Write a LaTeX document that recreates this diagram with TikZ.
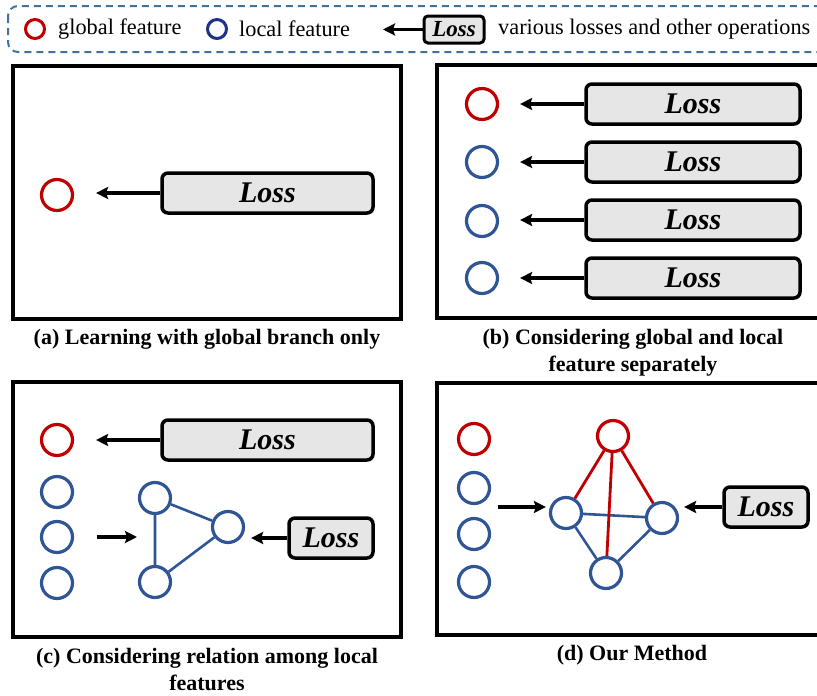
\documentclass[tikz,border=0pt]{standalone}
\usepackage{fontspec}
\setmainfont{Liberation Serif}
\usetikzlibrary{arrows.meta,calc}
\definecolor{gred}{HTML}{C00000}
\definecolor{lblue}{HTML}{2F5597}
\definecolor{navy}{HTML}{1F3287}
\definecolor{dashblue}{HTML}{41719C}
\definecolor{lossgray}{HTML}{E6E6E6}
\begin{document}
\begin{tikzpicture}[x=1pt,y=-1pt,
  feat/.style={circle, draw, line width=3.2pt, minimum size=31pt, inner sep=0pt},
  gfeat/.style={feat, draw=gred},
  lfeat/.style={feat, draw=lblue},
  smallfeat/.style={circle, draw, line width=3pt, minimum size=19pt, inner sep=0pt},
  lossbox/.style={draw, fill=lossgray, line width=3.5pt, rounded corners=6pt, inner sep=0pt,
    minimum height=40pt, font=\fontsize{30}{34}\selectfont\bfseries\itshape},
  arr/.style={-{Stealth[length=12pt,width=12pt,inset=2pt]}, line width=3.5pt},
  panel/.style={draw, line width=3.2pt, inner sep=0pt},
  capt/.style={font=\fontsize{22}{27}\selectfont\bfseries, align=center},
  legtext/.style={font=\fontsize{22.3}{26}\selectfont, anchor=west, inner sep=0pt},
  redge/.style={draw=gred, line width=2.8pt},
  bedge/.style={draw=lblue, line width=2.6pt}]
\useasboundingbox (0,0) rectangle (817,696);
\clip (0,0) rectangle (817,696);

% ---------- legend ----------
\draw[dashblue, line width=2pt, dash pattern=on 7pt off 5pt, rounded corners=10pt] (8,6) rectangle (860,52);
\node[smallfeat, draw=gred] (lg) at (35,29) {};
\node[legtext] (lgt) at (58,29) {global feature};
\node[smallfeat, draw=navy] (ll) at (217,29) {};
\node[legtext] (llt) at (239,29) {local feature};
\node[lossbox, minimum width=60pt, minimum height=27pt, line width=3pt, rounded corners=4pt,
  font=\fontsize{23}{26}\selectfont\bfseries\itshape] (lloss) at (454,29.5) {Loss};
\coordinate (larrow) at (383,29.5);
\draw[arr] (lloss.west) -- (larrow);
\node[legtext] (lvt) at (498,29) {various losses and other operations};

% ---------- panel (a) ----------
\node[panel, minimum width=388pt, minimum height=253pt] (pa) at (207,192.5) {};
\node[gfeat] (ag) at (57,195) {};
\node[lossbox, minimum width=211pt] (aloss) at (267.5,193) {Loss};
\draw[arr, shorten >=22pt] (aloss.west) -- (aloss.west -| ag.east);
\node[capt] (capa) at (207,339) {(a) Learning with global branch only};

% ---------- panel (b) ----------
\node[panel, minimum width=400pt, minimum height=253pt] (pb) at (637,191.5) {};
\node[gfeat] (bg) at (482,104) {};
\node[lfeat] (b1) at (482,162) {};
\node[lfeat] (b2) at (482,221) {};
\node[lfeat] (b3) at (482,278) {};
\node[lossbox, minimum width=214pt] (bl0) at (693,104) {Loss};
\node[lossbox, minimum width=214pt] (bl1) at (693,162) {Loss};
\node[lossbox, minimum width=214pt] (bl2) at (693,220) {Loss};
\node[lossbox, minimum width=214pt] (bl3) at (693,278) {Loss};
\draw[arr, shorten >=21pt] (bl0.west) -- (bl0.west -| bg.east);
\draw[arr, shorten >=21pt] (bl1.west) -- (bl1.west -| b1.east);
\draw[arr, shorten >=21pt] (bl2.west) -- (bl2.west -| b2.east);
\draw[arr, shorten >=21pt] (bl3.west) -- (bl3.west -| b3.east);
\node[capt] (capb) at (633,353) {(b) Considering global and local\\feature separately};

% ---------- panel (c) ----------
\node[panel, minimum width=388pt, minimum height=255pt] (pc) at (207,509.5) {};
\node[gfeat] (cg) at (57,440) {};
\node[lfeat] (c1) at (57,492) {};
\node[lfeat] (c2) at (57,537) {};
\node[lfeat] (c3) at (57,583) {};
\node[lossbox, minimum width=211pt] (cl0) at (267.5,440) {Loss};
\draw[arr, shorten >=22pt] (cl0.west) -- (cl0.west -| cg.east);
\node[lfeat] (ct) at (155,498) {};
\node[lfeat] (cr) at (228,527) {};
\node[lfeat] (cb) at (155,582) {};
\draw[bedge] (ct) -- (cr) -- (cb) -- (ct);
\coordinate (cin) at (97,537);
\coordinate (cinend) at (137,537);
\draw[arr] (cin) -- (cinend);
\node[lossbox, minimum width=84pt] (cl1) at (331,538) {Loss};
\draw[arr, shorten >=6pt] (cl1.west) -- (cl1.west -| cr.east);
\node[capt] (capc) at (207,669) {(c) Considering relation among local\\features};

% ---------- panel (d) ----------
\node[panel, minimum width=400pt, minimum height=252pt] (pd) at (637,509) {};
\node[gfeat] (dg) at (474,439) {};
\node[lfeat] (d1) at (474,488) {};
\node[lfeat] (d2) at (474,534) {};
\node[lfeat] (d3) at (474,582) {};
\node[gfeat] (dt) at (613,436) {};
\node[lfeat] (dl) at (566,513) {};
\node[lfeat] (dr) at (662,518) {};
\node[lfeat] (db) at (606,573) {};
\draw[bedge] (dl) -- (dr);
\draw[bedge] (dl) -- (db);
\draw[bedge] (dr) -- (db);
\draw[redge] (dt) -- (dl);
\draw[redge] (dt) -- (dr);
\draw[redge] (dt) -- (db);
\coordinate (din) at (498,507);
\draw[arr, shorten >=3pt] (din) -- (din -| dl.west);
\node[lossbox, minimum width=84pt] (dloss) at (766,507) {Loss};
\draw[arr, shorten >=5pt] (dloss.west) -- (dloss.west -| dr.east);
\node[capt] (capd) at (632,655) {(d) Our Method};
\end{tikzpicture}
\end{document}
